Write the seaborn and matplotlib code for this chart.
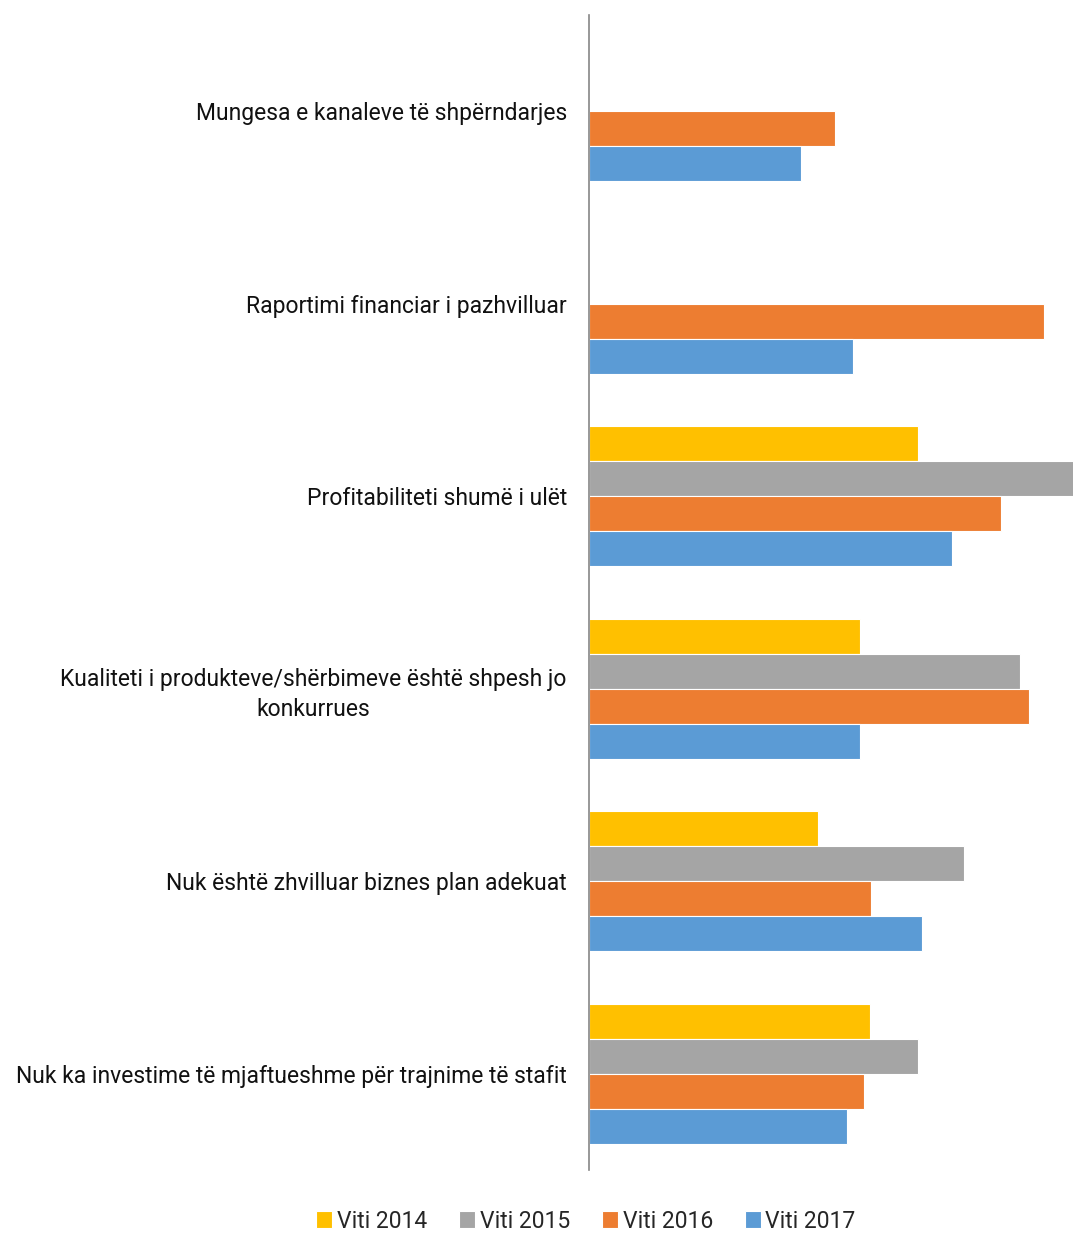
import pandas as pd
import numpy as np
import matplotlib.pyplot as plt
import seaborn as sns

categories = [
    'Mungesa e kanaleve të shpërndarjes',
    'Raportimi financiar i pazhvilluar',
    'Profitabiliteti shumë i ulët',
    'Kualiteti i produkteve/shërbimeve është shpesh jo\nkonkurrues',
    'Nuk është zhvilluar biznes plan adekuat',
    'Nuk ka investime të mjaftueshme për trajnime të stafit',
]
years = ['Viti 2014', 'Viti 2015', 'Viti 2016', 'Viti 2017']
v2014 = [np.nan, np.nan, 32.9, 27.1, 22.9, 28.1]
v2015 = [np.nan, np.nan, 49.0, 43.1, 37.5, 32.9]
v2016 = [24.6, 45.5, 41.2, 44.0, 28.2, 27.5]
v2017 = [21.2, 26.4, 36.3, 27.1, 33.3, 25.8]
colors = ['#FFC000', '#A5A5A5', '#ED7D31', '#5B9BD5']

rows = []
for year, vals in zip(years, [v2014, v2015, v2016, v2017]):
    for cat, v in zip(categories, vals):
        rows.append({'category': cat, 'year': year, 'value': v})
df = pd.DataFrame(rows)

sns.set_style('white')
plt.rcParams['font.family'] = ['Roboto', 'DejaVu Sans']

fig = plt.figure(figsize=(10.73, 12.33), dpi=100)
ax = fig.add_axes([0.549, 0.051, 0.451, 0.937])
sns.barplot(data=df, y='category', x='value', hue='year', order=categories,
            hue_order=years, palette=colors, saturation=1, width=0.727, orient='h',
            edgecolor='white', linewidth=0.8, ax=ax, legend=True)

ax.set_xlim(0, 48.4)
ax.set_xlabel('')
ax.set_ylabel('')
ax.set_xticks([])
for s in ['top', 'right', 'bottom']:
    ax.spines[s].set_visible(False)
ax.spines['left'].set_color('#868686')
ax.spines['left'].set_linewidth(1.2)
ax.tick_params(axis='y', length=0, pad=16, labelsize=16.5, labelcolor='#111111')
for lab in ax.get_yticklabels():
    lab.set_multialignment('center')
    lab.set_linespacing(1.35)

handles, labels = ax.get_legend_handles_labels()
ax.get_legend().remove()
fig.legend(handles, labels, loc='center', bbox_to_anchor=(0.546, 0.0097), ncol=4,
           frameon=False, fontsize=16.5, handlelength=0.7, handleheight=0.7,
           handletextpad=0.2, columnspacing=1.4)

fig.savefig('out.png', dpi=100)
